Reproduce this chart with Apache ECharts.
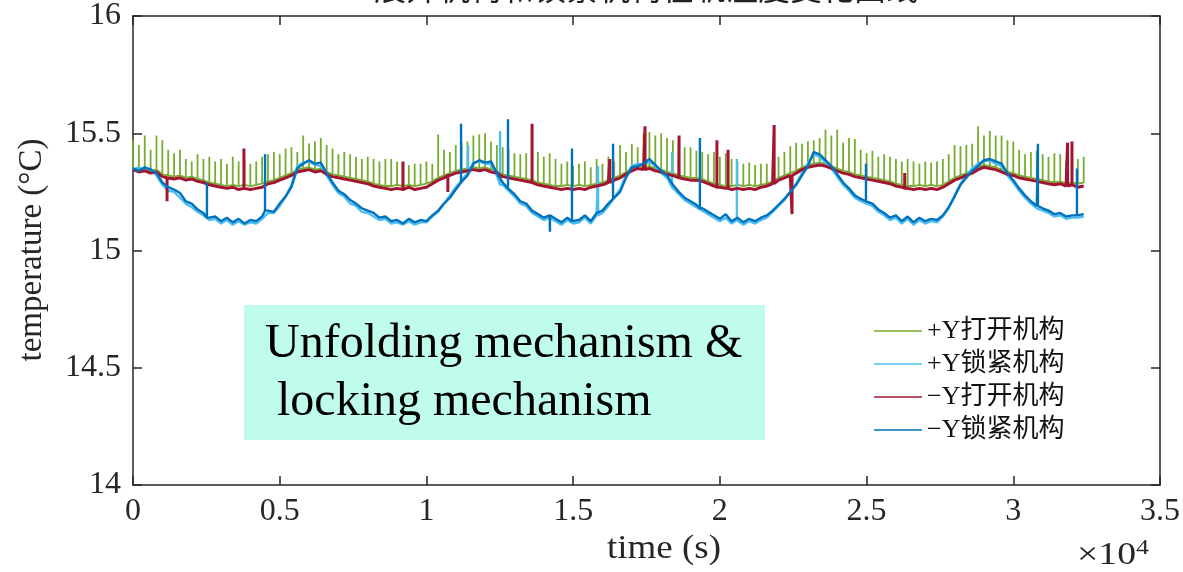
<!DOCTYPE html>
<html><head><meta charset="utf-8">
<script src="https://cdn.jsdelivr.net/npm/echarts@6/dist/echarts.min.js"></script>
<style>html,body{margin:0;padding:0;background:#fff}#c{width:1183px;height:572px}</style>
</head><body><div id="c"></div>
<script>
// ---------------- data ----------------
const titleText = '展开机构和锁紧机构在轨温度变化曲线';
const xAxisTitle = 'time (s)';
const yAxisTitle = 'temperature (°C)';
const noteText = 'Unfolding mechanism &\n locking mechanism';
const seriesNames = ['+Y打开机构', '+Y锁紧机构', '\u2212Y打开机构', '\u2212Y锁紧机构'];
const seriesColors = ['#77AC30', '#4DBEEE', '#A2142F', '#0072BD'];
const timeStep = 200; // s between samples, first sample at t = 0
const xTickLabels = ['0', '0.5', '1', '1.5', '2', '2.5', '3', '3.5'];
const yTickLabels = ['14', '14.5', '15', '15.5', '16'];

// +Y 打开机构 (green): baseline and one spike peak per sample
const greenBase = [
15.35,15.345,15.35,15.34,15.345,15.325,15.32,15.315,15.32,15.31,
15.315,15.305,15.3,15.29,15.285,15.28,15.275,15.28,15.275,15.28,
15.275,15.28,15.285,15.295,15.3,15.31,15.32,15.33,15.345,15.35,
15.355,15.345,15.35,15.335,15.325,15.32,15.315,15.31,15.305,15.3,
15.295,15.285,15.28,15.275,15.275,15.28,15.275,15.28,15.275,15.28,
15.285,15.295,15.31,15.32,15.33,15.34,15.345,15.35,15.355,15.35,
15.355,15.345,15.34,15.325,15.32,15.315,15.31,15.305,15.3,15.29,
15.285,15.28,15.275,15.275,15.28,15.275,15.28,15.275,15.28,15.285,
15.29,15.3,15.31,15.32,15.335,15.35,15.36,15.355,15.36,15.35,
15.345,15.335,15.33,15.32,15.315,15.31,15.31,15.305,15.295,15.285,
15.28,15.275,15.275,15.28,15.275,15.28,15.275,15.28,15.285,15.295,
15.31,15.32,15.33,15.34,15.355,15.365,15.37,15.375,15.37,15.36,
15.35,15.34,15.335,15.325,15.32,15.315,15.31,15.305,15.3,15.295,
15.285,15.28,15.275,15.275,15.28,15.275,15.28,15.275,15.28,15.295,
15.31,15.32,15.33,15.34,15.355,15.365,15.36,15.355,15.345,15.335,
15.33,15.32,15.315,15.31,15.305,15.3,15.295,15.29,15.295,15.285,
15.29,15.285,15.29];
const greenSpikes = [
15.47,15.45,15.49,15.43,15.49,15.47,
15.43,15.415,15.43,15.39,15.38,15.41,
15.39,15.40,15.38,15.39,15.37,15.40,15.38,15.39,15.37,15.38,15.40,15.41,
15.42,15.41,15.435,15.44,15.42,
15.49,15.456,15.465,15.48,15.45,15.435,
15.41,15.42,15.41,15.40,15.39,15.40,
15.39,15.38,15.39,15.39,15.38,15.37,15.365,15.37,15.37,15.38,15.37,
15.495,15.43,15.42,15.45,15.46,15.465,15.49,15.495,
15.50,15.465,15.45,15.44,15.43,15.415,15.41,15.415,15.41,15.42,15.40,
15.415,15.39,15.37,15.38,15.36,15.37,15.38,15.355,15.39,15.37,15.40,15.38,
15.45,15.42,15.455,15.44,
15.50,15.505,15.49,15.50,15.48,15.47,15.45,
15.44,15.44,15.425,15.42,15.41,15.42,15.40,15.415,15.39,
15.38,15.37,15.375,15.365,15.37,15.37,15.39,15.40,
15.42,15.445,15.46,15.455,15.465,15.47,15.48,
15.515,15.49,15.515,15.46,15.48,15.475,15.43,
15.415,15.425,15.40,15.41,15.40,15.39,15.38,15.39,
15.38,15.37,15.38,15.375,15.38,15.39,15.41,
15.45,15.445,15.45,15.455,15.53,
15.49,15.51,15.49,15.49,15.47,15.465,15.43,
15.41,15.42,15.425,15.41,15.40,
15.415,15.41,15.38,15.40,15.39,15.40];

// +Y 锁紧机构 (light blue)
const lightBlueBase = [
15.345,15.355,15.34,15.35,15.32,15.28,15.255,15.25,15.225,15.2,
15.185,15.165,15.15,15.13,15.135,15.115,15.13,15.11,15.125,15.11,
15.12,15.115,15.135,15.16,15.16,15.19,15.23,15.28,15.36,15.375,
15.38,15.365,15.36,15.32,15.28,15.245,15.23,15.2,15.19,15.165,
15.16,15.145,15.13,15.135,15.115,15.12,15.11,15.125,15.11,15.12,
15.12,15.145,15.165,15.2,15.235,15.27,15.3,15.33,15.375,15.38,
15.37,15.37,15.32,15.28,15.255,15.23,15.2,15.19,15.16,15.145,
15.13,15.14,15.125,15.11,15.13,15.115,15.12,15.14,15.115,15.15,
15.16,15.19,15.225,15.26,15.32,15.36,15.37,15.365,15.38,15.36,
15.33,15.31,15.27,15.24,15.215,15.2,15.185,15.17,15.155,15.14,
15.125,15.14,15.115,15.13,15.11,15.125,15.115,15.13,15.14,15.165,
15.19,15.215,15.25,15.285,15.33,15.37,15.41,15.4,15.375,15.35,
15.315,15.28,15.255,15.225,15.21,15.2,15.19,15.165,15.15,15.13,
15.14,15.115,15.135,15.11,15.13,15.115,15.125,15.12,15.145,15.18,
15.235,15.285,15.32,15.35,15.37,15.38,15.385,15.37,15.36,15.32,
15.29,15.255,15.225,15.2,15.18,15.17,15.16,15.145,15.15,15.135,
15.14,15.14,15.145];
const lightBlueSpikes = [[11420,15.45],[12510,15.51],[15850,15.36],[18370,15.42],[20580,15.39]];

// -Y 打开机构 (red)
const redBase = [
15.345,15.335,15.34,15.33,15.335,15.315,15.31,15.305,15.31,15.3,
15.305,15.295,15.29,15.28,15.275,15.27,15.265,15.27,15.26,15.265,
15.26,15.265,15.27,15.285,15.29,15.3,15.31,15.32,15.335,15.34,
15.345,15.335,15.34,15.325,15.315,15.31,15.305,15.3,15.295,15.29,
15.285,15.275,15.27,15.265,15.26,15.265,15.26,15.27,15.26,15.265,
15.27,15.285,15.3,15.31,15.32,15.33,15.335,15.34,15.345,15.34,
15.345,15.335,15.33,15.315,15.31,15.305,15.3,15.295,15.29,15.28,
15.275,15.27,15.265,15.26,15.265,15.26,15.265,15.26,15.27,15.275,
15.28,15.29,15.3,15.31,15.325,15.34,15.35,15.345,15.35,15.34,
15.335,15.325,15.32,15.31,15.305,15.3,15.3,15.295,15.285,15.275,
15.27,15.265,15.26,15.265,15.26,15.265,15.26,15.27,15.275,15.285,
15.3,15.31,15.32,15.33,15.345,15.355,15.36,15.365,15.36,15.35,
15.34,15.33,15.325,15.315,15.31,15.305,15.3,15.295,15.29,15.285,
15.275,15.27,15.265,15.26,15.265,15.26,15.265,15.26,15.27,15.285,
15.3,15.31,15.32,15.33,15.345,15.355,15.35,15.345,15.335,15.325,
15.32,15.31,15.305,15.3,15.295,15.29,15.285,15.28,15.285,15.275,
15.28,15.27,15.275];
const redSpikes = [[1160,15.21],[3780,15.435],[9200,15.38],[10730,15.25],[13600,15.54],
  [16250,15.39],[17450,15.53],[18610,15.49],[19900,15.47],[20280,15.43],[21850,15.535],
  [22460,15.155],[26300,15.33],[31850,15.46],[32000,15.465]];

// -Y 锁紧机构 (dark blue)
const darkBlueBase = [
15.35,15.34,15.355,15.345,15.33,15.29,15.27,15.26,15.245,15.21,
15.2,15.175,15.16,15.14,15.145,15.125,15.14,15.12,15.135,15.115,
15.13,15.125,15.145,15.17,15.165,15.2,15.23,15.27,15.35,15.37,
15.385,15.37,15.375,15.33,15.29,15.255,15.24,15.215,15.2,15.18,
15.17,15.16,15.14,15.145,15.125,15.13,15.115,15.135,15.12,15.13,
15.125,15.15,15.17,15.2,15.225,15.26,15.29,15.32,15.37,15.385,
15.375,15.38,15.33,15.29,15.265,15.24,15.21,15.2,15.17,15.155,
15.14,15.15,15.135,15.12,15.14,15.125,15.13,15.15,15.125,15.16,
15.17,15.2,15.22,15.25,15.31,15.355,15.36,15.37,15.39,15.365,
15.34,15.32,15.28,15.25,15.225,15.21,15.195,15.18,15.165,15.15,
15.135,15.155,15.125,15.14,15.12,15.135,15.125,15.14,15.15,15.17,
15.195,15.22,15.25,15.28,15.32,15.36,15.42,15.41,15.385,15.36,
15.325,15.29,15.265,15.235,15.22,15.21,15.2,15.175,15.16,15.14,
15.15,15.125,15.145,15.12,15.14,15.125,15.135,15.13,15.15,15.185,
15.23,15.28,15.31,15.34,15.36,15.385,15.39,15.38,15.37,15.33,
15.3,15.265,15.235,15.21,15.19,15.18,15.17,15.155,15.16,15.145,
15.15,15.15,15.155];
const darkBlueSpikes = [[2520,15.29],[4500,15.41],[11180,15.54],[12780,15.56],[14210,15.08],
  [14960,15.435],[16360,15.455],[19320,15.48],[24980,15.37],[30840,15.455],[32170,15.35]];

// ---------------- build ----------------
function buildWithSpikeList(base, spikes) {
  const out = [];
  const sorted = spikes.slice().sort((a, b) => a[0] - b[0]);
  let k = 0;
  for (let i = 0; i < base.length; i++) {
    const t = i * timeStep;
    while (k < sorted.length && sorted[k][0] < t) {
      const s = sorted[k];
      const near = base[Math.min(base.length - 1, Math.round(s[0] / timeStep))];
      out.push([s[0], near], [s[0], s[1]], [s[0], near]);
      k++;
    }
    out.push([t, base[i]]);
  }
  return out;
}
function buildWithSpikePerSample(base, peaks) {
  const out = [];
  for (let i = 0; i < base.length; i++) {
    const t = i * timeStep;
    out.push([t, base[i]]);
    if (peaks[i] != null) out.push([t, peaks[i]], [t, base[i]]);
  }
  return out;
}
const seriesData = [
  buildWithSpikePerSample(greenBase, greenSpikes),
  buildWithSpikeList(lightBlueBase, lightBlueSpikes),
  buildWithSpikeList(redBase, redSpikes),
  buildWithSpikeList(darkBlueBase, darkBlueSpikes)
];
const lineWidths = [1.8, 2.4, 3, 2.4];

const serif = '"Liberation Serif","Times New Roman",serif';
const cjk = '"Liberation Serif","Noto Sans CJK SC",serif';
const axisColor = '#262626';

const chart = echarts.init(document.getElementById('c'), null, {renderer: 'canvas'});
const commonX = {type: 'value', min: 0, max: 35000, interval: 5000, splitLine: {show: false}};
const commonY = {type: 'value', min: 14, max: 16, interval: 0.5, splitLine: {show: false}};
const lineAx = {show: true, onZero: false, lineStyle: {color: axisColor, width: 1.5}};
const tickAx = {inside: true, length: 9, lineStyle: {color: axisColor, width: 1.5}};
chart.setOption({
  animation: false,
  backgroundColor: '#ffffff',
  grid: {left: 133, right: 23, top: 14, bottom: 87, show: false},
  legend: {
    orient: 'vertical', left: 869, top: 313, itemWidth: 48, itemHeight: 1.4, itemGap: 7,
    icon: 'rect', data: seriesNames,
    textStyle: {fontFamily: cjk, fontSize: 26, color: '#111'},
    selectedMode: false
  },
  xAxis: [
    Object.assign({}, commonX, {
      position: 'bottom', axisLine: lineAx, axisTick: tickAx,
      axisLabel: {margin: 11, fontFamily: serif, fontSize: 32, color: axisColor,
        formatter: v => xTickLabels[Math.round(v / 5000)]}
    }),
    Object.assign({}, commonX, {
      position: 'top', axisLine: lineAx, axisTick: tickAx, axisLabel: {show: false}
    })
  ],
  yAxis: [
    Object.assign({}, commonY, {
      position: 'left', axisLine: lineAx, axisTick: tickAx,
      axisLabel: {margin: 12, fontFamily: serif, fontSize: 32, color: axisColor,
        formatter: v => yTickLabels[Math.round((v - 14) / 0.5)]}
    }),
    Object.assign({}, commonY, {
      position: 'right', axisLine: lineAx, axisTick: tickAx, axisLabel: {show: false}
    })
  ],
  series: seriesNames.map((n, k) => ({
    name: n, type: 'line', xAxisIndex: 0, yAxisIndex: 0,
    data: seriesData[k], showSymbol: false, symbol: 'none', sampling: null,
    color: seriesColors[k],
    itemStyle: {color: seriesColors[k]},
    lineStyle: {color: seriesColors[k], width: lineWidths[k]},
    z: 2 + k
  })),
  graphic: [
    {type: 'text', x: 646, y: 4, z: 1,
      style: {text: titleText, fontFamily: '"Noto Sans CJK SC",sans-serif', fontSize: 32, fill: '#222',
        textAlign: 'center', textVerticalAlign: 'bottom'}},
    {type: 'text', x: 664, y: 549, z: 11, scaleX: 1.12,
      style: {text: xAxisTitle, fontFamily: serif, fontSize: 33, fill: axisColor,
        textAlign: 'center', textVerticalAlign: 'middle'}},
    {type: 'text', x: 32, y: 250, z: 11, rotation: Math.PI / 2,
      style: {text: yAxisTitle, fontFamily: serif, fontSize: 33, fill: axisColor,
        textAlign: 'center', textVerticalAlign: 'middle'}},
    {type: 'rect', shape: {x: 244, y: 305, width: 521, height: 135}, style: {fill: '#C0FCEC'}, z: 10},
    {type: 'text', x: 265, y: 315, z: 11,
      style: {text: noteText, fontFamily: serif, fontSize: 48, lineHeight: 58, fill: '#000'}},
    {type: 'text', x: 1077, y: 537, z: 11, scaleX: 1.18,
      style: {text: '×10{s|4}', fontFamily: serif, fontSize: 32, fill: axisColor,
        rich: {s: {fontFamily: serif, fontSize: 22, verticalAlign: 'top', padding: [0, 0, 16, 0], fill: axisColor}}}}
  ]
});
</script></body></html>
